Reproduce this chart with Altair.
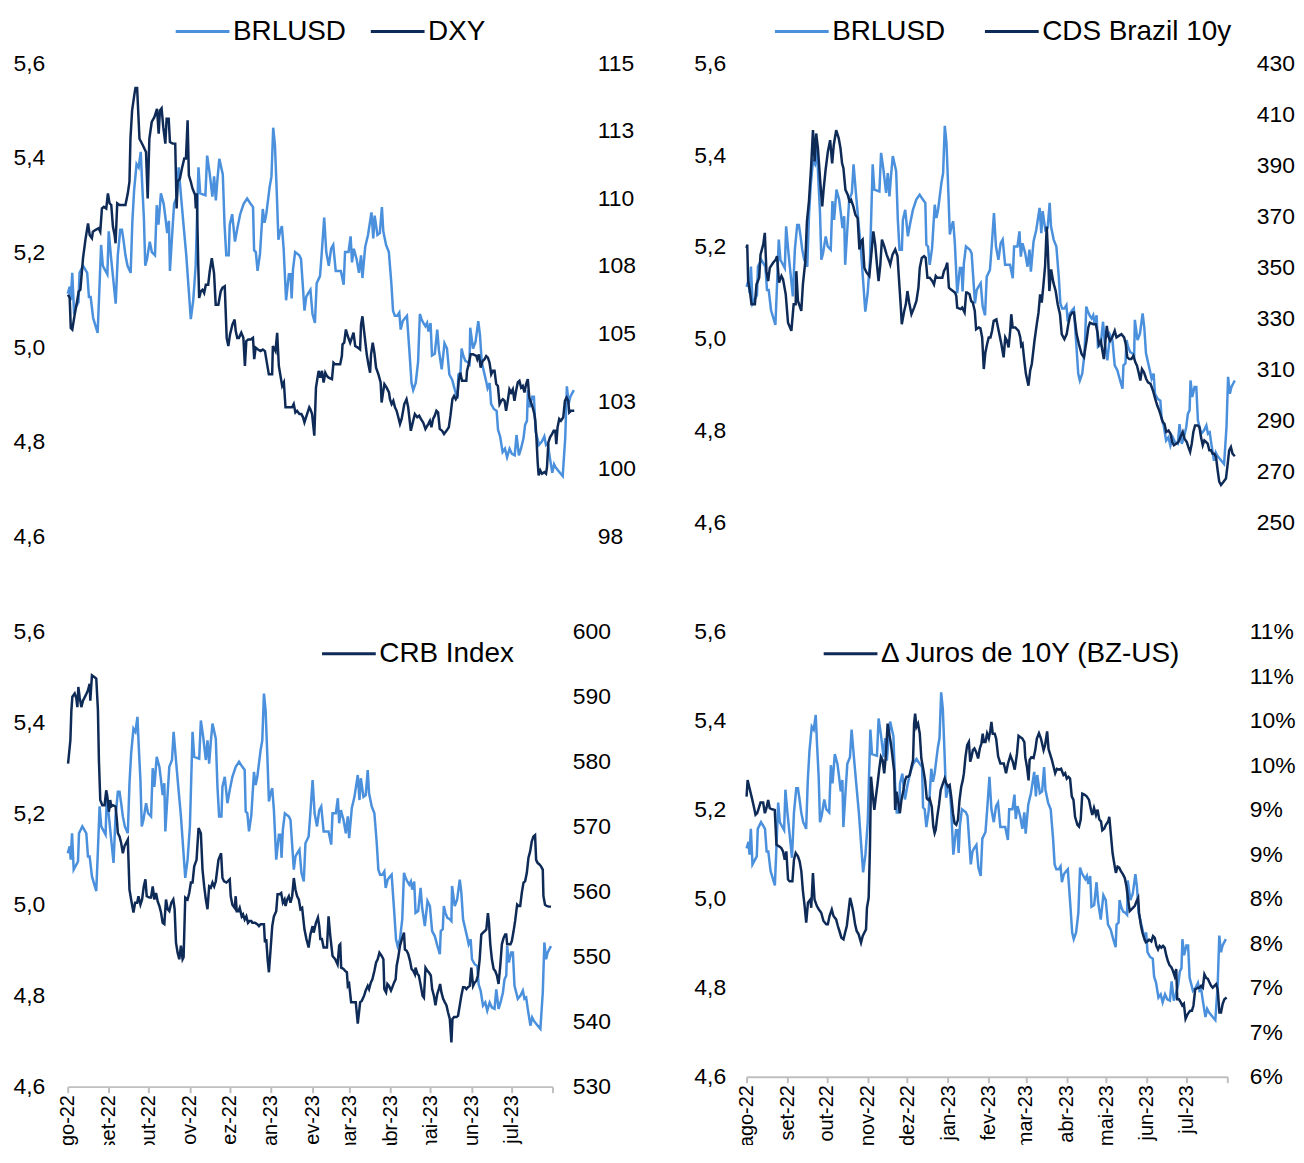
import altair as alt
import pandas as pd

# ---------------- data (day offset from 2022-08-01, value) ----------------
START = pd.Timestamp("2022-08-01")

BRLUSD = [(0,5.113),(1.5,5.128),(2.25,5.099),(3.25,5.157),(4.5,5.077),(7.75,5.095),(8.5,5.157),(11,5.172),(14,5.157),(15.25,5.106),(16.5,5.106),(18.25,5.062),(21.5,5.030),(22.75,5.121),(24,5.216),(25.25,5.172),(26.5,5.165),(28.5,5.154),(29.5,5.245),(31,5.194),(32.75,5.143),(34.5,5.092),(36,5.194),(37.75,5.248),(39,5.248),(40.25,5.223),(41.5,5.194),(43,5.172),(45.25,5.157),(46.5,5.267),(47.75,5.332),(49.5,5.387),(51,5.380),(52.5,5.413),(53.5,5.347),(54.75,5.274),(55.75,5.172),(57,5.186),(59,5.223),(60.5,5.201),(62.75,5.194),(64,5.300),(65.25,5.259),(67,5.325),(69,5.303),(70.25,5.274),(71.5,5.241),(72.75,5.267),(73.5,5.161),(75.25,5.245),(76.5,5.303),(78.5,5.318),(79.75,5.380),(81.5,5.318),(83.25,5.259),(85.25,5.194),(88.5,5.059),(90.25,5.099),(92,5.172),(94,5.380),(95.25,5.325),(99,5.321),(100.25,5.405),(102,5.369),(104,5.318),(105.25,5.361),(106.5,5.310),(107.75,5.358),(109,5.398),(111.5,5.365),(112.75,5.259),(114,5.194),(115.75,5.194),(116.5,5.259),(118.25,5.281),(120.25,5.223),(122,5.252),(124,5.281),(126.5,5.303),(129,5.314),(131.5,5.303),(133.25,5.296),(134,5.205),(135.25,5.201),(136.5,5.161),(138.25,5.197),(140.25,5.292),(141.5,5.263),(142.75,5.281),(145.25,5.340),(146.5,5.361),(147.75,5.464),(149,5.427),(150.25,5.332),(151.5,5.227),(152.75,5.245),(154,5.256),(155.25,5.208),(157,5.099),(159,5.154),(160.25,5.154),(161,5.103),(162,5.165),(163.5,5.201),(166.5,5.194),(167.75,5.186),(170.25,5.077),(171.5,5.106),(172.75,5.113),(174.5,5.121),(176,5.070),(177.75,5.051),(179,5.135),
(181.4,5.150),(182.7,5.201),(184.4,5.274),(185.9,5.201),(187.7,5.172),(189.4,5.208),(190.9,5.216),(192.7,5.161),(196.4,5.161),(198.4,5.132),(199.4,5.201),(201.9,5.201),(203.4,5.234),(204.4,5.179),(205.7,5.208),(207.7,5.186),(209.4,5.157),(210.9,5.194),(211.9,5.146),(213.9,5.212),(215.9,5.237),(218.4,5.285),(219.7,5.230),(220.7,5.278),(222.7,5.237),(224.4,5.241),(225.9,5.296),(226.9,5.245),(228.9,5.216),(230.9,5.201),(232.7,5.135),(233.9,5.077),(235.2,5.066),(236.9,5.066),(238.4,5.073),(239.4,5.037),(240.9,5.055),(242.7,5.062),(243.9,5.066),(245.9,4.982),(247.2,4.924),(248.4,4.909),(250.2,4.924),(251.9,4.968),(253.2,5.070),(254.4,5.059),(255.7,5.051),(257.2,5.044),(258.4,5.051),(259.4,5.033),(260.9,5.051),(261.9,4.982),(263.9,4.986),(265.7,5.037),(266.9,4.993),(268.9,4.953),(270.9,5.008),(272.7,4.997),(274.4,4.942),(276.4,4.931),(278.4,4.909),(280.2,4.891),(280.9,4.942),(282.4,4.946),(283.2,4.997),(284.4,4.982),(285.9,4.971),(287.7,4.968),(288.9,4.964),(289.4,5.041),(291.4,4.997),(293.2,5.011),(295.2,5.055),(296.4,5.026),(297.7,4.968),(299.4,4.946),(300.9,4.927),(301.9,4.913),(303.4,4.924),(304.4,4.880),(306.4,4.869),(308.4,4.865),(309.4,4.825),(310.9,4.811),(312.7,4.778),(314.4,4.785),(315.9,4.767),(317.7,4.785),(319.4,4.774),(321.4,4.771),(322.7,4.814),(324.4,4.771),(325.9,4.785),(327.7,4.807),(328.9,4.836),(330.2,4.844),(330.9,4.909),(332.2,4.873),(333.9,4.895),(335.2,4.895),(336.4,4.822),(337.7,4.807),(338.9,4.793),(340.9,4.800),(342.7,4.811),(343.9,4.793),(345.2,4.796),(346.4,4.771),(348.4,4.734),(349.7,4.752),(350.9,4.745),(353.9,4.734),(355.9,4.727),(357.7,4.807),(358.9,4.917),(360.2,4.880),(361.4,4.895),(363.9,4.909)]

DXY = [(0.2,106.44),(1.4,106.32),(2.2,105.21),(3.3,105.15),(5.0,105.70),(6.7,106.19),(7.9,106.56),(9.1,106.62),(11.0,107.79),(12.9,108.53),(14.6,109.08),(15.8,108.65),(17.4,108.53),(18.1,108.77),(19.8,108.83),(22.2,108.90),(23.4,108.77),(24.6,109.63),(26.0,109.69),(27.7,109.63),(28.9,110.19),(30.1,109.82),(31.3,109.76),(32.5,108.96),(33.7,108.65),(34.4,108.34),(35.6,109.82),(37.2,109.76),(41.5,109.76),(43.2,110.19),(44.4,110.62),(45.1,112.21),(46.3,113.26),(48.0,113.87),(48.7,114.09),(49.9,114.09),(51.6,112.21),(54.0,111.97),(56.3,111.72),(57.5,110.00),(58.7,112.21),(60.4,112.83),(62.3,113.01),(64.2,113.32),(65.4,112.40),(66.3,113.26),(67.5,113.34),(68.7,112.64),(70.2,112.03),(71.1,112.95),(72.6,112.95),(73.5,112.09),(75.4,112.03),(77.3,112.03),(78.3,109.63),(79.0,110.62),(80.7,110.74),(82.1,111.11),(83.8,111.48),(85.0,111.48),(86.2,112.89),(87.1,110.86),(88.5,110.62),(89.7,110.37),(91.6,110.13),(92.1,109.63),(92.8,110.19),(93.8,107.67),(94.5,106.32),(95.7,106.56),(96.9,106.62),(98.1,106.50),(99.3,106.81),(101.0,106.81),(102.1,107.30),(103.6,107.79),(105.2,107.24),(106.4,106.07),(108.3,106.07),(110.0,106.56),(111.2,106.69),(112.9,106.75),(114.3,104.84),(115.5,104.54),(116.7,104.97),(118.4,105.33),(120.0,105.52),(120.8,105.09),(121.9,104.84),(123.1,104.84),(124.8,105.03),(126.3,104.84),(127.4,103.80),(128.4,104.72),(129.8,104.78),(131.5,104.78),(133.2,104.84),(134.1,104.05),(135.1,104.48),(136.8,104.41),(138.7,104.35),(140.3,104.41),(141.8,104.35),(143.4,103.86),(144.6,103.49),(147.0,103.49),(147.5,104.54),(149.4,104.35),(150.6,105.03),(151.8,103.80),(153.0,103.43),(154.2,103.06),(155.4,103.19),(156.6,102.27),(159.0,102.27),(161.3,102.27),(162.5,102.39),(163.7,102.08),(164.9,102.14),(166.6,102.02),(168.0,102.02),(169.2,101.90),(170.2,101.71),(172.1,102.02),(173.7,102.27),(174.5,102.20),(175.7,102.02),(177.3,101.22),(178.5,103.00),
(180.4,103.62),(181.6,103.37),(182.8,103.62),(184.0,103.19),(185.2,103.55),(186.4,103.43),(187.6,103.37),(190.0,103.31),(191.1,103.92),(192.3,103.86),(195.9,103.86),(197.1,104.17),(197.6,104.60),(198.8,104.66),(200.0,105.15),(201.4,104.90),(203.1,104.66),(204.3,104.84),(205.5,105.03),(206.7,104.54),(208.6,104.48),(210.2,104.41),(210.9,105.33),(211.9,105.64),(213.1,105.09),(215.0,104.23),(216.2,103.86),(217.4,103.55),(218.1,104.23),(219.3,104.66),(220.5,104.29),(221.7,103.74),(223.4,103.49),(225.0,103.19),(225.7,102.45),(226.9,102.88),(227.7,103.13),(229.3,103.00),(231.0,102.82),(231.7,102.57),(232.9,102.39),(234.1,102.51),(235.3,102.27),(236.5,102.14),(237.7,101.90),(238.9,101.65),(240.1,101.84),(242.0,102.39),(243.6,102.57),(244.8,102.27),(246.7,101.40),(248.4,101.77),(249.6,102.02),(251.3,101.90),(252.7,101.96),(253.9,101.84),(255.6,101.71),(257.2,101.47),(259.2,101.65),(260.4,101.77),(261.5,101.53),(262.7,101.84),(263.9,101.96),(265.1,102.14),(266.3,102.08),(267.5,101.47),(269.2,101.40),(270.6,101.28),(272.3,101.40),(274.0,101.53),(275.2,101.96),(276.6,102.57),(277.8,102.69),(279.0,102.57),(280.2,102.69),(281.1,103.25),(282.3,103.55),(283.5,103.25),(286.6,103.25),(287.1,103.62),(288.3,103.86),(289.7,104.23),(291.4,104.23),(293.8,104.17),(294.5,104.05),(295.7,104.23),(296.9,103.74),(298.3,103.98),(299.7,104.05),(300.9,104.17),(302.1,104.11),(303.3,103.92),(304.5,103.49),(305.7,103.62),(306.9,103.62),(308.1,103.13),(309.3,103.06),(310.5,102.39),(311.7,102.51),(312.9,102.57),(314.1,102.51),(315.2,102.14),(316.4,102.51),(317.6,102.94),(318.8,102.82),(320.0,102.94),(321.2,102.51),(322.4,102.88),(323.6,103.19),(324.8,103.25),(326.0,103.00),(327.2,103.06),(328.4,102.82),(329.6,103.13),(330.8,103.31),(331.9,102.63),(333.1,102.45),(334.3,102.27),(335.5,102.02),(336.2,101.77),(337.0,101.16),(337.9,100.24),(338.6,99.75),(339.8,99.93),(341.0,99.81),(342.7,99.87),(343.9,99.81),(344.6,100.05),(345.6,100.97),(346.8,101.16),(348.2,101.28),(349.4,101.40),(350.6,101.40),(351.3,100.91),(352.2,101.53),(353.4,101.84),(354.6,101.77),(356.3,101.90),(357.5,102.51),(358.7,102.63),(359.9,102.51),(360.6,102.08),(361.8,102.14),(364.2,102.14)]

CDS = [(0,357.6),(0.5,358.9),(1.2,344.6),(2.5,340.7),(3.7,335.5),(6.2,335.5),(7.4,343.3),(9.4,345.9),(10.4,355.0),(12.4,358.9),(13.6,363.5),(14.8,348.5),(16.1,344.6),(17.3,349.8),(19.8,351.8),(21.8,353.1),(22.7,354.4),(24.2,344.0),(26.0,346.6),(27.2,345.3),(29.2,339.4),(30.9,328.3),(33.4,325.1),(35.1,335.5),(36.6,335.5),(37.1,348.5),(38.3,336.8),(40.8,332.9),(42.0,343.3),(43.8,352.4),(45.0,368.0),(46.5,375.9),(48.2,390.2),(49.5,403.8),(50.7,391.5),(51.9,402.5),(53.2,396.7),(54.9,383.7),(56.4,373.9),(57.4,380.4),(58.9,388.2),(60.6,395.4),(62.3,399.9),(63.8,390.8),(65.0,398.0),(66.8,403.8),(68.7,400.6),(70.0,396.7),(71.2,390.8),(72.2,388.9),(73.7,380.4),(75.4,378.5),(76.7,375.9),(77.9,376.5),(79.6,373.9),(81.1,370.6),(82.8,369.3),(84.1,357.0),(85.3,360.2),(86.5,360.9),(87.8,349.8),(89.5,347.9),(91.5,346.6),(93.2,356.3),(94.5,364.1),(95.9,358.9),(97.2,351.1),(98.4,344.6),(99.7,351.1),(100.9,360.9),(102.6,358.3),(104.4,355.0),(106.3,352.4),(107.1,351.1),(108.8,355.0),(110.8,357.0),(112.5,354.4),(113.7,344.6),(115.0,334.2),(115.7,327.7),(117.5,332.9),(118.7,335.5),(119.9,340.7),(121.2,336.2),(122.9,331.6),(124.9,334.2),(126.6,336.8),(128.1,342.0),(129.1,349.8),(130.6,353.7),(132.3,354.4),(133.5,353.7),(134.8,345.9),(136.5,345.9),(138.5,344.6),(139.7,343.3),(141.0,346.6),(142.2,345.9),(143.9,345.9),(145.9,345.9),(147.1,348.5),(148.4,349.8),(149.6,351.8),(150.8,342.0),(152.1,341.4),(153.8,340.7),(155.3,340.1),(156.3,338.8),(157.0,334.2),(159.5,333.6),(160.7,334.2),(162.5,332.3),(163.7,340.1),(164.4,340.1),(166.2,339.4),(167.4,336.8),(168.6,336.2),(170.1,332.9),(171.1,325.7),(173.1,326.4),(174.3,326.1),(175.6,322.5),(176.8,310.1),(178.0,316.6),(179.3,319.9),(180.5,322.5),(181.8,322.5),(183.0,325.1),(184.2,329.0),
(186.2,329.6),(187.9,325.1),(189.9,319.9),(191.6,314.7),(192.8,322.5),(194.1,321.2),(195.3,318.6),(196.5,325.1),(197.3,331.6),(198.3,326.4),(200.3,326.4),(202.7,325.1),(204.0,322.5),(204.7,319.2),(205.7,319.9),(206.9,314.0),(208.2,308.2),(210.1,303.6),(211.4,309.5),(212.6,312.1),(214.6,321.2),(216.3,327.7),(217.6,332.2),(218.8,339.4),(220.0,336.2),(221.3,343.3),(222.5,350.5),(223.7,366.0),(224.5,357.6),(225.7,340.7),(227.0,349.2),(228.7,344.0),(230.4,340.7),(231.9,335.5),(233.6,331.6),(234.9,323.8),(236.9,321.8),(238.6,323.8),(239.8,327.7),(241.1,330.9),(242.8,332.3),(244.0,332.3),(244.8,329.0),(246.0,323.8),(247.7,319.9),(249.7,316.0),(251.4,314.7),(253.4,321.2),(254.7,326.4),(255.9,328.3),(258.4,327.7),(260.3,327.7),(261.6,324.4),(262.6,319.9),(264.1,321.2),(265.0,317.9),(266.3,314.0),(267.5,321.2),(268.5,327.0),(269.5,323.1),(271.0,321.2),(272.5,322.5),(274.4,325.1),(275.7,322.5),(277.4,323.1),(279.4,323.8),(281.4,322.5),(282.6,319.9),(283.8,314.7),(285.3,314.0),(286.8,314.0),(288.3,315.3),(289.8,312.7),(291.0,311.4),(292.2,308.8),(293.5,305.6),(294.7,310.1),(296.2,308.8),(297.9,306.2),(299.2,304.9),(301.1,304.3),(302.9,301.7),(304.6,298.4),(306.1,295.8),(307.6,293.8),(309.1,291.2),(310.3,289.3),(311.5,288.6),(312.8,285.4),(314.5,286.0),(316.0,284.7),(317.2,281.5),(318.5,280.2),(320.2,280.8),(321.9,281.5),(323.4,283.4),(325.1,285.4),(326.4,282.8),(328.1,281.5),(329.3,279.5),(330.6,277.6),(331.8,280.8),(333.0,285.4),(334.3,288.0),(336.3,288.0),(337.5,287.3),(338.7,283.4),(340.0,280.2),(341.2,282.1),(342.4,281.5),(343.7,280.8),(344.9,278.2),(346.2,278.2),(347.4,276.9),(348.6,276.9),(349.9,275.6),(351.1,270.4),(352.3,265.9),(353.6,264.6),(355.5,265.9),(357.3,267.2),(358.5,272.4),(359.7,278.2),(361.0,279.5),(362.2,276.9),(363.9,275.9)]

CRB = [(0.25,579.7),(2.0,583.3),(2.75,587.9),(3.5,590.0),(5.25,590.5),(6.5,589.7),(7.25,588.4),(8.0,591.5),(9.0,589.9),(10.25,588.4),(11.5,589.4),(13.5,590.2),(15.25,591.0),(16.5,592.0),(17.0,589.4),(18.25,593.3),(20.25,593.0),(21.5,592.8),(22.75,587.9),(23.5,580.2),(24.5,574.1),(26.0,573.3),(27.75,573.3),(29.0,575.6),(30.25,573.9),(31.0,572.3),(32.0,574.1),(32.75,573.1),(34.0,573.3),(36.0,573.1),(37.0,571.1),(37.75,569.0),(39.0,568.5),(40.25,567.5),(41.5,565.9),(42.75,567.0),(44.0,567.5),(45.25,568.0),(46.5,560.3),(47.75,558.8),(49.5,556.8),(50.75,558.3),(52.25,558.3),(53.25,559.3),(54.75,558.0),(56.0,558.8),(57.25,560.8),(58.5,561.9),(59.5,559.3),(61.5,559.1),(62.75,559.1),(64.0,560.8),(65.25,558.8),(66.5,559.8),(67.75,558.5),(69.0,557.8),(70.25,556.8),(71.5,555.2),(72.75,555.0),(74.0,558.8),(75.25,557.3),(76.5,557.0),(78.0,558.3),(79.5,558.8),(80.5,557.3),(81.5,552.2),(82.75,550.6),(84.0,549.6),(85.25,551.7),(86.5,549.6),(87.25,549.9),(88.5,559.1),(90.25,558.8),(91.5,559.8),(92.75,561.4),(94.0,561.4),(95.25,563.9),(97.0,564.9),(98.5,569.8),(100.25,569.0),(101.5,563.4),(102.75,560.8),(104.0,558.8),(105.25,557.3),(106.5,560.8),(107.75,560.6),(109.0,561.4),(110.25,560.8),(111.5,561.6),(113.5,564.9),(115.5,565.9),(116.5,562.1),(117.75,561.6),(119.5,561.4),(122.0,561.9),(122.75,559.3),(124.0,558.0),(125.75,557.5),(126.5,559.3),(127.25,557.0),(128.5,557.0),(129.5,557.5),(131.0,556.2),(132.0,556.5),(133.25,555.7),(134.5,556.2),(135.75,555.2),(137.0,555.5),(138.25,555.5),(139.0,555.2),(141.0,555.2),(142.75,555.0),(144.0,554.7),(145.25,555.0),(146.5,555.0),(147.75,555.0),(148.5,552.2),(149.5,552.7),(150.5,549.6),(151.5,547.6),(152.75,551.1),(154.0,554.7),(155.25,556.2),(157.0,557.0),(158.0,559.6),(159.5,559.6),(160.75,559.8),(162.0,558.3),(163.25,558.8),(164.0,557.8),(165.25,558.8),(166.5,559.3),(167.75,558.3),(169.0,559.3),(170.25,562.1),(171.5,560.3),(172.75,559.3),(174.0,558.8),(175.25,557.3),(176.5,557.5),(178.25,554.2),(179.75,552.7),
(181.4,551.4),(182.7,553.4),(184.4,554.7),(185.2,553.7),(186.9,555.2),(188.4,556.0),(189.4,554.7),(190.2,552.7),(191.4,552.7),(192.7,551.4),(195.2,551.4),(196.4,556.2),(197.7,553.2),(199.4,550.1),(201.4,549.6),(203.2,548.8),(204.4,551.7),(205.2,551.9),(205.9,548.3),(207.7,548.1),(208.9,547.8),(210.2,547.6),(210.9,545.5),(211.9,545.8),(213.4,543.0),(215.2,543.0),(216.9,543.0),(218.4,539.7),(220.2,543.0),(221.4,543.2),(223.2,544.0),(224.4,544.8),(225.9,545.5),(226.9,545.0),(228.2,546.0),(229.4,546.5),(230.9,547.8),(232.2,549.1),(233.4,549.6),(234.7,550.6),(236.4,550.1),(237.7,549.6),(238.4,545.0),(239.7,544.5),(240.7,545.8),(241.9,545.5),(243.4,544.8),(244.4,545.3),(245.7,546.0),(246.9,546.5),(247.7,548.6),(248.9,549.9),(250.2,551.7),(251.9,552.9),(253.2,553.7),(253.9,551.1),(255.2,550.9),(256.4,550.4),(257.7,549.4),(258.9,548.1),(260.2,547.8),(261.4,547.3),(261.9,548.3),(263.4,547.3),(264.4,547.1),(265.9,545.5),(267.2,544.0),(268.2,543.7),(269.4,548.3),(270.9,547.8),(271.9,547.6),(273.4,547.1),(274.4,545.0),(275.7,544.0),(276.9,542.5),(278.2,544.2),(279.4,545.0),(280.4,545.8),(281.4,544.5),(282.7,543.5),(283.9,543.0),(285.2,542.5),(286.4,541.4),(287.7,540.4),(288.9,536.8),(289.7,540.4),(290.9,540.7),(292.7,540.7),(293.9,540.9),(295.2,542.5),(296.4,544.0),(297.7,545.3),(298.9,545.3),(300.2,545.0),(301.4,545.3),(302.7,545.5),(303.9,548.3),(305.2,545.5),(306.4,546.0),(307.7,546.3),(308.9,547.1),(310.2,549.6),(311.4,553.4),(312.7,553.7),(313.9,553.9),(315.2,554.2),(316.4,556.7),(317.2,555.2),(318.2,551.9),(319.4,549.6),(320.7,548.1),(321.9,547.8),(323.2,547.1),(324.4,545.8),(325.7,548.6),(326.9,551.9),(328.2,552.9),(329.4,553.4),(330.2,553.4),(330.9,551.9),(332.2,551.9),(333.4,551.9),(334.4,552.4),(335.7,553.9),(336.9,555.5),(338.4,558.0),(339.4,557.8),(340.7,557.8),(341.9,559.8),(343.2,561.4),(344.4,561.6),(345.7,562.9),(346.9,565.2),(348.2,566.2),(349.4,567.7),(350.7,568.5),(351.9,568.7),(352.7,564.9),(353.9,564.4),(355.2,564.2),(356.4,563.9),(357.7,563.4),(358.2,559.3),(359.4,558.0),(360.7,557.8),(362.2,557.7),(363.9,557.7)]

JUROS = [(0,9.147),(0.8,9.333),(2.0,9.259),(3.8,9.147),(5.5,9.035),(6.8,8.942),(8.1,8.961),(9.3,9.017),(10.6,9.080),(12.6,9.080),(13.9,8.961),(15.1,9.017),(16.4,9.110),(17.6,9.017),(19.4,9.005),(21.4,8.998),(22.7,8.606),(24.7,8.588),(26.4,8.569),(27.7,8.532),(29.0,8.439),(30.2,8.532),(31.5,8.215),(32.7,8.196),(34.8,8.196),(36.0,8.439),(37.3,8.513),(39.0,8.476),(40.3,8.420),(41.6,8.308),(42.8,8.084),(44.1,7.917),(45.3,7.730),(46.6,7.954),(48.4,7.991),(49.1,7.898),(50.4,8.289),(51.6,7.991),(53.4,7.917),(54.9,7.879),(56.7,7.842),(58.4,7.749),(60.5,7.712),(61.7,7.712),(63.0,7.805),(64.7,7.879),(66.0,7.805),(68.0,7.767),(69.3,7.693),(70.5,7.637),(72.0,7.562),(73.6,7.544),(74.8,7.618),(76.1,7.693),(77.3,7.842),(78.6,8.010),(80.1,7.917),(81.1,7.842),(82.4,7.712),(83.6,7.637),(85.1,7.600),(86.9,7.506),(88.2,7.581),(89.4,7.618),(90.7,7.656),(91.4,7.898),(92.7,8.010),(93.7,8.588),(94.5,9.371),(95.7,9.184),(97.0,8.998),(98.2,9.147),(99.5,9.296),(100.8,9.464),(102.0,9.594),(103.3,9.557),(104.5,9.408),(105.8,9.613),(107.1,9.967),(108.3,9.855),(109.6,9.744),(110.8,9.594),(112.1,9.427),(112.8,8.998),(113.9,9.203),(115.1,9.091),(116.4,8.961),(117.6,9.110),(119.1,9.222),(120.4,9.333),(121.4,9.371),(122.7,9.371),(123.9,9.389),(125.2,9.483),(126.4,9.557),(127.2,9.967),(128.0,10.079),(129.0,9.930),(130.2,9.967),(131.5,9.855),(132.7,9.576),(134.3,9.445),(135.5,9.333),(136.8,9.128),(138.0,9.110),(139.0,9.128),(140.6,9.035),(141.8,8.811),(142.8,8.737),(143.6,8.774),(144.8,8.923),(146.1,9.054),(147.4,9.222),(149.1,9.296),(150.4,9.352),(151.6,9.296),(152.9,9.259),(154.2,9.277),(155.4,9.147),(156.7,8.961),(157.9,8.849),(159.2,8.830),(160.5,8.886),(161.7,9.110),(163.0,9.259),(164.2,9.333),(165.0,9.408),(166.2,9.594),(167.5,9.725),(168.8,9.762),(169.8,9.539),(170.8,9.594),(171.8,9.669),(173.0,9.688),(174.3,9.650),(175.8,9.576),(177.1,9.688),(178.3,9.744),(179.3,9.855),(180.1,9.762),(181.4,9.762),(182.6,9.855),(183.9,9.800),(185.1,9.893),(185.9,9.986),(186.9,9.855),(188.4,9.855),
(189.5,9.80),(191,9.60),(192.7,9.52),(195.3,9.52),(197.0,9.41),(198.5,9.52),(200.3,9.61),(202.1,9.54),(203.6,9.45),(205.3,9.63),(206.5,9.83),(209.4,9.80),(210.9,9.76),(211.6,9.59),(212.9,9.48),(214.1,9.33),(214.9,9.56),(216.2,9.59),(217.9,9.58),(219.2,9.67),(220.4,9.80),(222,9.86),(223.5,9.80),(225.5,9.67),(226.7,9.73),(228.2,9.88),(229.3,9.68),(231.8,9.56),(234.3,9.41),(235.6,9.46),(237.3,9.45),(238.8,9.46),(240.6,9.39),(241.9,9.41),(243.1,9.35),(244.4,9.37),(245.6,9.35),(246.9,9.15),(248.2,9.11),(249.4,8.92),(251.2,8.83),(252.4,8.81),(253.7,8.89),(254.9,9.18),(256.5,9.17),(258.2,9.15),(260.0,9.11),(261.5,9.00),(262.5,8.94),(263.8,9.02),(265.3,8.94),(266.5,9.00),(267.8,8.89),(269.1,8.87),(270.1,8.77),(271.6,8.79),(272.8,8.83),(274.6,8.87),(275.4,8.92),(276.6,8.72),(277.9,8.51),(279.1,8.40),(280.4,8.29),(281.7,8.36),(282.9,8.35),(284.2,8.31),(285.9,8.27),(287.2,8.23),(288.4,8.14),(289.7,7.99),(290.9,7.86),(292.2,7.88),(293.5,7.90),(294.8,7.92),(296.0,7.97),(297.3,8.01),(298.0,7.84),(299.3,7.71),(300.5,7.62),(301.8,7.56),(303.1,7.51),(304.3,7.52),(305.6,7.54),(307.3,7.52),(308.6,7.58),(309.9,7.56),(311.1,7.47),(312.4,7.43),(313.6,7.47),(314.9,7.45),(316.2,7.47),(317.4,7.45),(318.7,7.36),(319.9,7.30),(321.2,7.25),(322.5,7.23),(323.7,7.19),(325.0,7.13),(326.2,7.21),(327.0,6.87),(328.3,6.87),(329.5,6.84),(330.8,6.80),(332.0,6.82),(333.3,6.65),(334.5,6.69),(335.6,6.72),(336.8,6.74),(338.1,6.74),(339.3,6.80),(340.6,6.98),(342.6,7.00),(343.9,7.00),(345.1,7.02),(346.4,7.00),(347.6,7.15),(348.9,7.11),(350.2,7.10),(351.4,7.06),(352.7,7.02),(353.9,7.00),(355.2,7.02),(356.5,7.04),(357.7,6.98),(359.0,6.72),(360.2,6.72),(361.5,6.82),(362.8,6.87),(364.5,6.89)]

MONTHS_PT = ["jan", "fev", "mar", "abr", "mai", "jun", "jul", "ago", "set", "out", "nov", "dez"]
LEFT_TICKS = [4.6, 4.8, 5.0, 5.2, 5.4, 5.6]
DXY_TICKS = [97.5, 100, 102.5, 105, 107.5, 110, 112.5, 115]
CDS_TICKS = [250, 270, 290, 310, 330, 350, 370, 390, 410, 430]
CRB_TICKS = [530, 540, 550, 560, 570, 580, 590, 600]
JUROS_TICKS = [6, 6.5, 7, 7.5, 8, 8.5, 9, 9.5, 10, 10.5, 11]

LIGHT = "#4A90DC"
DARK = "#0E2A57"
FONT = "Liberation Sans"


def frame(pairs, name):
    return pd.DataFrame({
        "date": [START + pd.to_timedelta(d, unit="D") for d, _ in pairs],
        "value": [v for _, v in pairs],
        "series": name,
    })


brl_df = frame(BRLUSD, "BRLUSD")

month_vals = [alt.DateTime(year=2022, month=m, date=1) for m in range(8, 13)] + \
             [alt.DateTime(year=2023, month=m, date=1) for m in range(1, 9)]
arr = "[" + ",".join("'%s'" % m for m in MONTHS_PT) + "]"
x_label_expr = ("datum.value >= datetime(2023,7,1) ? '' : " + arr +
                "[month(datum.value)] + '-' + timeFormat(datum.value, '%y')")
x_domain = [alt.DateTime(year=2022, month=8, date=1), alt.DateTime(year=2023, month=8, date=1)]


def x_enc(show):
    if show:
        ax = alt.Axis(values=month_vals, labelExpr=x_label_expr, labelAngle=-90,
                      labelAlign="right", labelBaseline="middle", labelFontSize=20,
                      labelPadding=2, tickSize=6, tickWidth=2, tickColor="#BFBFBF",
                      domainColor="#BFBFBF", domainWidth=2, grid=False, title=None)
    else:
        ax = None
    return alt.X("date:T", scale=alt.Scale(domain=x_domain), axis=ax)


def panel(sec_pairs, sec_name, sec_ticks, sec_expr, w, h, show_x,
          legend_both, lx, ly, colpad, lpad, rpad):
    sec_df = frame(sec_pairs, sec_name)
    if legend_both:
        dom, rng = ["BRLUSD", sec_name], [LIGHT, DARK]
    else:
        dom, rng = [sec_name], [DARK]
    leg = alt.Legend(orient="none", legendX=lx, legendY=ly, direction="horizontal",
                     title=None, symbolType="stroke", symbolSize=2916,
                     symbolStrokeWidth=3, labelFontSize=28, labelFont=FONT,
                     labelColor="black", columnPadding=colpad, labelOffset=2,
                     labelLimit=500, padding=0, clipHeight=28)
    color_sec = alt.Color("series:N", scale=alt.Scale(domain=dom, range=rng), legend=leg)
    if legend_both:
        color_brl = alt.Color("series:N", scale=alt.Scale(domain=dom, range=rng), legend=leg)
    else:
        color_brl = alt.value(LIGHT)

    left = alt.Chart(brl_df).mark_line(strokeWidth=2.5).encode(
        x=x_enc(show_x),
        y=alt.Y("value:Q", scale=alt.Scale(domain=[4.6, 5.6], nice=False, zero=False),
                axis=alt.Axis(orient="left", values=LEFT_TICKS,
                              labelExpr="replace(format(datum.value, '.1f'), '.', ',')",
                              domain=False, ticks=False, grid=False, labelPadding=lpad,
                              title=None)),
        color=color_brl,
    )
    right = alt.Chart(sec_df).mark_line(strokeWidth=2.5).encode(
        x=x_enc(show_x),
        y=alt.Y("value:Q", scale=alt.Scale(domain=[sec_ticks[0], sec_ticks[-1]], nice=False, zero=False),
                axis=alt.Axis(orient="right", values=sec_ticks, labelExpr=sec_expr,
                              domain=False, ticks=False, grid=False, labelPadding=rpad,
                              title=None)),
        color=color_sec,
    )
    return alt.layer(left, right).resolve_scale(y="independent").properties(width=w, height=h)


tl = panel(DXY, "DXY", DXY_TICKS, "format(round(datum.value), 'd')",
           510, 475, False, True, 107, -46, 23, 23, 22)
tr = panel(CDS, "CDS Brazil 10y", CDS_TICKS, "format(datum.value, 'd')",
           492, 461, False, True, 27, -46, 38, 21, 20)
bl = panel(CRB, "CRB Index", CRB_TICKS, "format(datum.value, 'd')",
           487, 457, True, False, 254, 8, 27, 23, 20)
br = panel(JUROS, "Δ Juros de 10Y (BZ-US)", JUROS_TICKS, "round(datum.value) + '%'",
           483, 447, True, False, 76, 8, 27, 21, 22)

chart = alt.concat(tl, tr, bl, br, columns=2, spacing={"row": 73, "column": 58}).resolve_scale(
    color="independent"
).resolve_legend(color="independent").configure_view(stroke=None).configure_axis(
    labelFont=FONT, labelColor="black", labelFontSize=23
).properties(background="white", padding={"left": 5, "top": 7, "right": 0, "bottom": -16})

chart.save("out.html", embed_options={"renderer": "svg", "actions": False})
